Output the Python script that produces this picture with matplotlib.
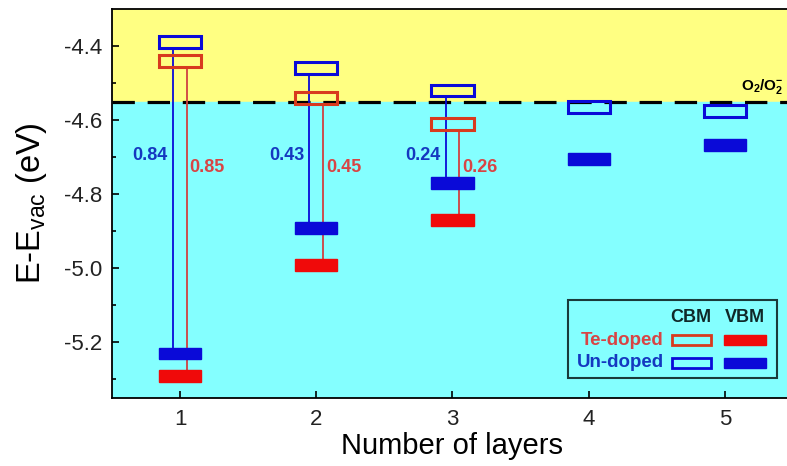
import matplotlib.pyplot as plt
import numpy as np

plt.rcParams['font.family'] = ['Liberation Sans', 'DejaVu Sans']
plt.rcParams['mathtext.fontset'] = 'custom'
plt.rcParams['mathtext.rm'] = 'Liberation Sans'
plt.rcParams['mathtext.it'] = 'Liberation Sans:italic'
plt.rcParams['mathtext.bf'] = 'Liberation Sans:bold'

# band edges (eV) vs number of layers
layers = [1, 2, 3, 4, 5]
undoped_cbm = [-4.39, -4.46, -4.52, -4.565, -4.576]
undoped_vbm = [-5.23, -4.89, -4.77, -4.705, -4.668]
te_layers = [1, 2, 3]
te_cbm = [-4.44, -4.54, -4.61]
te_vbm = [-5.29, -4.99, -4.87]
gap_undoped = ["0.84", "0.43", "0.24"]
gap_te = ["0.85", "0.45", "0.26"]
o2_level = -4.55

BLUE = "#0a0ad8"
RED = "#f00a0a"
RED_EDGE = "#d83a1e"
BLUE_TXT = "#1438c0"
RED_TXT = "#d84444"

fig = plt.figure(figsize=(7.87, 4.66), dpi=100)
ax = fig.add_axes([0.1423, 0.1459, 0.8653, 0.8348])

ax.set_xlim(0.5, 5.5)
ax.set_ylim(-5.35, -4.30)

# background regions
ax.axhspan(o2_level, -4.30, color="#ffff82", zorder=0)
ax.axhspan(-5.35, o2_level, color="#84ffff", zorder=0)
ax.axhline(o2_level, color="black", lw=2.3, dashes=(7, 4), zorder=2)
ax.text(5.12, o2_level + 0.015, r"$\mathbf{O_2/O_2^{-}}$", fontsize=11,
        ha="left", va="bottom", zorder=5)

w = 0.31
h = 0.032

# connecting lines
for i, x in enumerate(te_layers):
    ax.plot([x - 0.05, x - 0.05], [undoped_cbm[i] - h / 2, undoped_vbm[i] + h / 2],
            color=BLUE, lw=1.3, zorder=3)
    ax.plot([x + 0.05, x + 0.05], [te_cbm[i] - h / 2, te_vbm[i] + h / 2],
            color="#d04040", lw=1.3, zorder=3)
    ax.text(x - 0.09, -4.695, gap_undoped[i], color=BLUE_TXT, fontsize=13,
            fontweight="bold", ha="right", va="center")
    ax.text(x + 0.07, -4.727, gap_te[i], color=RED_TXT, fontsize=13,
            fontweight="bold", ha="left", va="center")

# CBM (open) and VBM (filled) boxes
cbm_u = np.array(undoped_cbm)
vbm_u = np.array(undoped_vbm)
cbm_t = np.array(te_cbm)
vbm_t = np.array(te_vbm)
ax.bar(te_layers, h, bottom=cbm_t - h / 2, width=w, fill=False,
       edgecolor=RED_EDGE, lw=2.2, zorder=4)
ax.bar(layers, h, bottom=cbm_u - h / 2, width=w, fill=False,
       edgecolor=BLUE, lw=2.2, zorder=4)
ax.bar(te_layers, h, bottom=vbm_t - h / 2, width=w, color=RED,
       edgecolor=RED, lw=1, zorder=4)
ax.bar(layers, h, bottom=vbm_u - h / 2, width=w, color=BLUE,
       edgecolor=BLUE, lw=1, zorder=4)

# legend drawn by hand
lx0, ly0, lw_, lh_ = 0.670, 0.051, 0.307, 0.201
ax.add_patch(plt.Rectangle((lx0, ly0), lw_, lh_, transform=ax.transAxes,
                           fill=False, edgecolor="#1a3a3a", lw=1.5, zorder=6))
ax.text(0.850, 0.206, "CBM", transform=ax.transAxes, fontsize=13,
        fontweight="bold", ha="center", va="center", color="#102828", zorder=7)
ax.text(0.930, 0.206, "VBM", transform=ax.transAxes, fontsize=13,
        fontweight="bold", ha="center", va="center", color="#102828", zorder=7)
rows = [("Te-doped", RED_TXT, RED_EDGE, RED, 0.149),
        ("Un-doped", BLUE_TXT, BLUE, BLUE, 0.090)]
for label, tc, ec, fc, yy in rows:
    ax.text(0.810, yy, label, transform=ax.transAxes, fontsize=13.5,
            fontweight="bold", ha="right", va="center", color=tc, zorder=7)
    ax.add_patch(plt.Rectangle((0.822, yy - 0.014), 0.058, 0.028,
                               transform=ax.transAxes, fill=False,
                               edgecolor=ec, lw=2, zorder=7))
    ax.add_patch(plt.Rectangle((0.899, yy - 0.014), 0.062, 0.028,
                               transform=ax.transAxes, color=fc, zorder=7))

ax.set_xticks(layers)
ax.set_yticks([-4.4, -4.6, -4.8, -5.0, -5.2])
ax.set_yticks(np.arange(-5.3, -4.41, 0.2), minor=True)
ax.set_yticklabels(["-4.4", "-4.6", "-4.8", "-5.0", "-5.2"])
ax.tick_params(direction="in", labelsize=16, length=5, width=1.2,
               labelcolor="#222222")
ax.tick_params(axis="y", pad=7)
ax.tick_params(axis="x", pad=8)
ax.tick_params(which="minor", direction="in", length=3, width=1.2)
for s in ax.spines.values():
    s.set_linewidth(1.3)

ax.set_xlabel("Number of layers", fontsize=21, labelpad=1)
ax.set_ylabel(r"E-E$_{\mathrm{vac}}$ (eV)", fontsize=23.5, labelpad=11)

plt.savefig("out.png", dpi=100)
